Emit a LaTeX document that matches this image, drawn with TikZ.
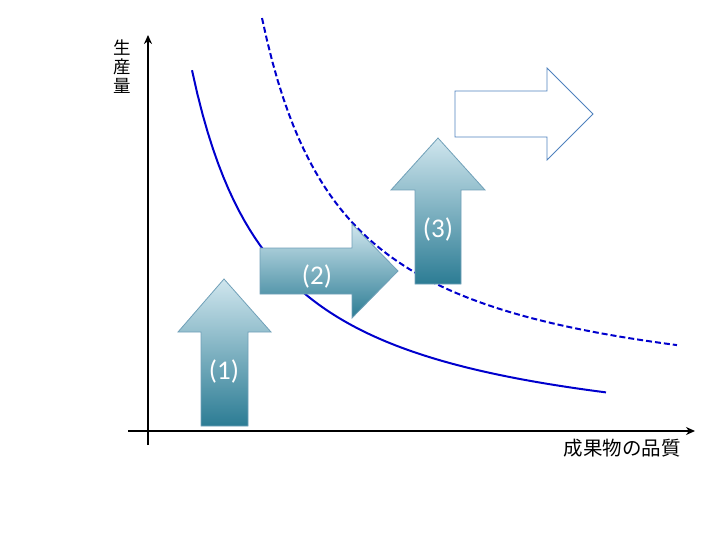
\documentclass[tikz,border=0pt]{standalone}
\usepackage{fontspec}
\setmainfont{Carlito}
\newfontfamily\cjk{Noto Sans CJK JP}
\usetikzlibrary{arrows.meta}

\definecolor{curveblue}{RGB}{0,0,205}
\definecolor{arrowtop}{RGB}{208,230,238}
\definecolor{arrowbot}{RGB}{44,124,148}
\definecolor{arrowedge}{RGB}{112,160,184}
\definecolor{outlineblue}{RGB}{79,129,189}

\tikzset{
  axis/.style={line width=1.8pt, -{Stealth[length=9pt,width=8pt]}},
  curve/.style={curveblue, line width=2pt},
  stage/.style={top color=arrowtop, bottom color=arrowbot, draw=arrowedge, line width=0.8pt},
  stagelabel/.style={white, font=\fontsize{27}{30}\selectfont},
}

\begin{document}
\begin{tikzpicture}[x=1pt,y=-1pt]
\useasboundingbox (0,0) rectangle (720,540);

% axes
\coordinate (xs) at (128,431);
\coordinate (xe) at (695,431);
\coordinate (ys) at (148,445);
\coordinate (ye) at (148,35);
\draw[axis] (xs) -- (xe);
\draw[axis] (ys) -- (ye);
\node[font=\cjk\fontsize{17.5}{19}\selectfont, align=center] (ylab) at (122,67) {生\\産\\量};
\node[font=\cjk\fontsize{19.5}{22}\selectfont] (xlab) at (622,448) {成果物の品質};

% curves
\draw[curve, domain=192:606, samples=80] plot ({\x},{456.2-316.5/((\x-110)/100)});
\draw[curve, dash pattern=on 6pt off 3pt, domain=262:677, samples=80] plot ({\x},{410.5-325.7/((\x-179)/100)});

% arrows
\shade[stage] (201,426) -- (201,332) -- (178,332) -- (224,279) -- (271,332) -- (248,332) -- (248,426) -- cycle;
\shade[stage] (260,248) -- (352,248) -- (352,224) -- (398,271) -- (352,318) -- (352,294) -- (260,294) -- cycle;
\shade[stage] (415,284) -- (415,190) -- (391,190) -- (438,138) -- (485,190) -- (461,190) -- (461,284) -- cycle;
\draw[outlineblue, line width=0.8pt] (455,91) -- (547,91) -- (547,68) -- (593,114) -- (547,160) -- (547,137) -- (455,137) -- cycle;

\node[stagelabel] (s1) at (224,371) {(1)};
\node[stagelabel] (s2) at (317,276) {(2)};
\node[stagelabel] (s3) at (438,229) {(3)};
\end{tikzpicture}
\end{document}
